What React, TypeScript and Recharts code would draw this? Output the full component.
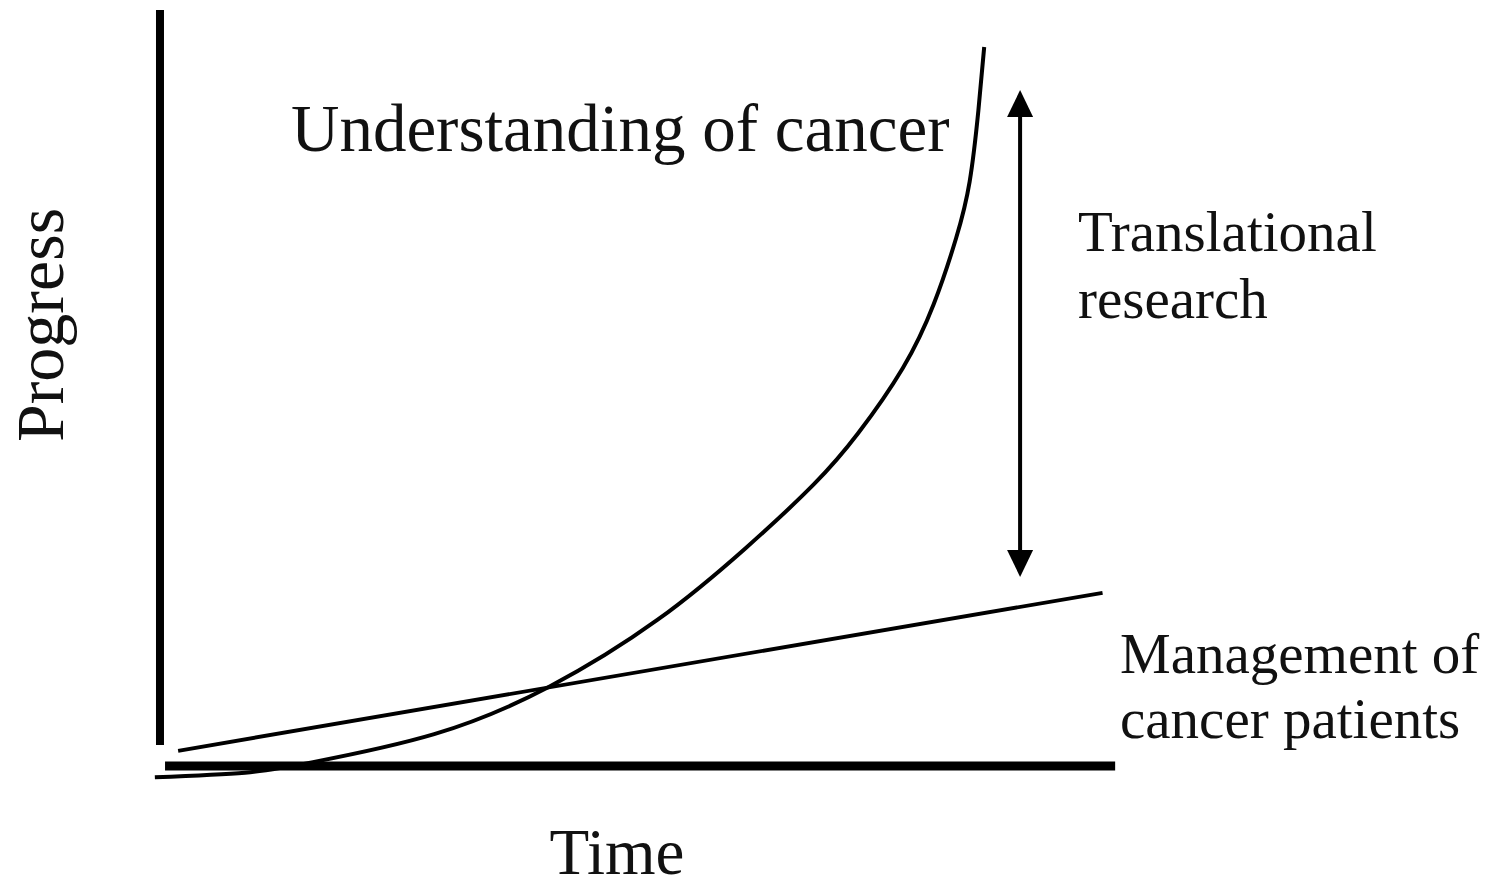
import { LineChart, Line, XAxis, YAxis, ReferenceLine } from 'recharts'

// "Understanding of cancer" curve (time, progress)
const understandingTime = [0.5, 9.8, 16.8, 29.3, 41.2, 52.3, 61.4, 68.4, 73.0, 77.6, 80.8, 83.1, 84.5, 85.4, 86.0]
const understandingProgress = [-1.5, -0.9, 0.5, 4.2, 10.5, 19.3, 28.8, 37.2, 44.0, 52.6, 61.1, 69.8, 77.3, 86.7, 95.1]

// "Management of cancer patients" straight line
const managementTime = [2.9, 98.2]
const managementProgress = [2.0, 22.9]

// translational research gap arrow (time, from, to)
const gapTime = 89.7
const gapFrom = 25.0
const gapTo = 89.4

const understanding = understandingTime.map((t, i) => ({ t, p: understandingProgress[i] }))
const management = managementTime.map((t, i) => ({ t, p: managementProgress[i] }))

const W = 1499
const H = 889
const serif = '"Liberation Serif", "Times New Roman", serif'

const DoubleArrow = (props: any) => {
  const { x1, y1, x2, y2 } = props
  const x = (x1 + x2) / 2
  const top = Math.min(y1, y2)
  const bot = Math.max(y1, y2)
  const hw = 13
  const hh = 27
  return (
    <g>
      <line x1={x} y1={top + hh - 2} x2={x} y2={bot - hh + 2} stroke="#000" strokeWidth={4} />
      <polygon points={`${x},${top} ${x - hw},${top + hh} ${x + hw},${top + hh}`} fill="#000" />
      <polygon points={`${x},${bot} ${x - hw},${bot - hh} ${x + hw},${bot - hh}`} fill="#000" />
    </g>
  )
}

export default function App() {
  return (
    <div style={{ position: 'absolute', left: 0, top: 0, background: '#fff' }}>
      <LineChart width={W} height={H} margin={{ top: 10, left: 150, right: 379, bottom: 108 }}>
        <XAxis type="number" dataKey="t" domain={[0, 100]} hide />
        <YAxis type="number" dataKey="p" domain={[-2, 100]} allowDataOverflow hide />

        <ReferenceLine segment={[{ x: 1.55, y: 0 }, { x: 99.5, y: 0 }]} stroke="#000" strokeWidth={9} />
        <ReferenceLine segment={[{ x: 1.03, y: 2.76 }, { x: 1.03, y: 100 }]} stroke="#000" strokeWidth={8} />
        <ReferenceLine segment={[{ x: gapTime, y: gapFrom }, { x: gapTime, y: gapTo }]} shape={DoubleArrow} />

        <Line data={understanding} dataKey="p" type="natural" stroke="#000" strokeWidth={4}
          dot={false} activeDot={false} isAnimationActive={false} />
        <Line data={management} dataKey="p" type="linear" stroke="#000" strokeWidth={3.8}
          dot={false} activeDot={false} isAnimationActive={false} />

        <text x={291} y={151} fontFamily={serif} fontSize={67} fill="#111">Understanding of cancer</text>
        <text x={1078} y={251} fontFamily={serif} fontSize={57} fill="#111">Translational</text>
        <text x={1078} y={318} fontFamily={serif} fontSize={57} fill="#111">research</text>
        <text x={1120} y={673} fontFamily={serif} fontSize={57} fill="#111">Management of</text>
        <text x={1120} y={738} fontFamily={serif} fontSize={57} fill="#111">cancer patients</text>
        <text x={617} y={874} textAnchor="middle" fontFamily={serif} fontSize={65} fill="#111">Time</text>
        <text x={63} y={325} textAnchor="middle" transform="rotate(-90 63 325)" fontFamily={serif} fontSize={68} fill="#111">Progress</text>
      </LineChart>
    </div>
  )
}
